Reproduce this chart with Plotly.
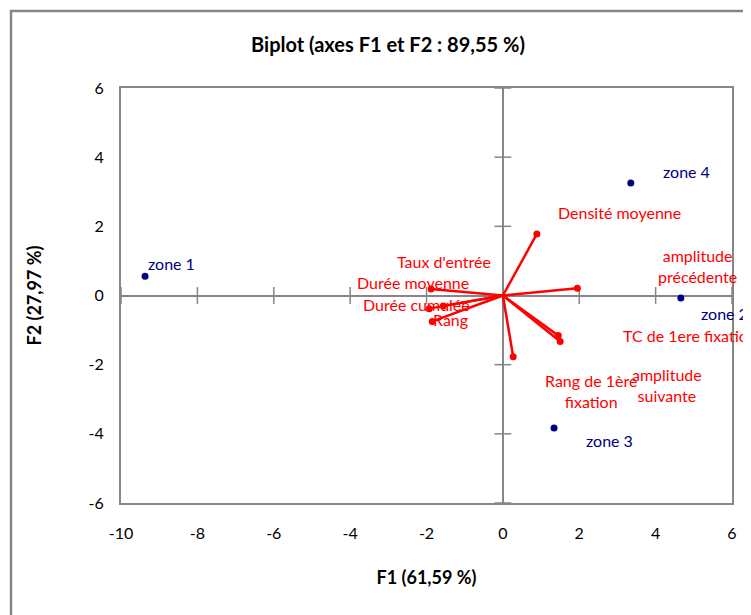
import plotly.graph_objects as go

# Observations (zones) - coordinates on F1 / F2
zones = ['zone 1', 'zone 2', 'zone 3', 'zone 4']
zone_f1 = [-9.37, 4.66, 1.34, 3.35]
zone_f2 = [0.56, -0.07, -3.83, 3.25]

# Variables (vectors from origin)
variables = ["Densité moyenne", "amplitude<br>précédente", "Taux d'entrée", "Durée moyenne",
             "Rang", "Durée cumulée", "TC de 1ere fixation", "amplitude<br>suivante",
             "Rang de 1ère<br>fixation"]
var_f1 = [0.89, 1.95, -1.88, -1.93, -1.56, -1.85, 1.45, 1.50, 0.27]
var_f2 = [1.78, 0.21, 0.19, -0.38, -0.30, -0.75, -1.16, -1.33, -1.77]

x_ticks = [-10, -8, -6, -4, -2, 0, 2, 4, 6]
x_tick_labels = ['-10', '-8', '-6', '-4', '-2', '0', '2', '4', '6']
y_ticks = [-6, -4, -2, 0, 2, 4, 6]
y_tick_labels = ['-6', '-4', '-2', '0', '2', '4', '6']

FONT = "Lato, 'Open Sans', sans-serif"
GREY = '#868686'
RED = '#FF0000'
NAVY = '#000080'

# the page body has an 8px margin, so the figure is drawn 8px smaller
W, H = 751 - 8, 615 - 8

# label offsets in pixels (dx, dy, anchor)
zone_lbl = [(26, 13, 'center'), (44, -16, 'center'), (55, -13, 'center'), (56, 12, 'center')]
var_lbl = [(83, 21, 'center'), (120, 22, 'center'), (13, 27, 'center'), (-16, 26, 'center'),
           (7, -14, 'center'), (-16, 17, 'center'), (63, 0, 'left'), (107, -43, 'center'),
           (78, -34, 'center')]

fig = go.Figure()

# tick marks drawn on the zero lines (Excel style)
fig.add_trace(go.Scatter(
    x=[t for t in x_ticks if t != 0], y=[0] * (len(x_ticks) - 1), mode='markers',
    marker=dict(symbol='line-ns', size=12, line=dict(color=GREY, width=1.5)),
    hoverinfo='skip', showlegend=False))
fig.add_trace(go.Scatter(
    x=[0] * (len(y_ticks) - 1), y=[t for t in y_ticks if t != 0], mode='markers',
    marker=dict(symbol='line-ew', size=12, line=dict(color=GREY, width=1.5)),
    hoverinfo='skip', showlegend=False))

# vectors
vx, vy = [], []
for a, b in zip(var_f1, var_f2):
    vx += [0, a, None]
    vy += [0, b, None]
fig.add_trace(go.Scatter(x=vx, y=vy, mode='lines', line=dict(color=RED, width=2.5),
                         hoverinfo='skip', showlegend=False))
fig.add_trace(go.Scatter(x=var_f1, y=var_f2, mode='markers', text=variables,
                         marker=dict(color=RED, size=7), showlegend=False))

# observations
fig.add_trace(go.Scatter(x=zone_f1, y=zone_f2, mode='markers', text=zones,
                         marker=dict(color=NAVY, size=7), showlegend=False))

for name, a, b, (dx, dy, anc) in zip(zones, zone_f1, zone_f2, zone_lbl):
    fig.add_annotation(x=a, y=b, text=name, showarrow=False, xshift=dx, yshift=dy,
                       xanchor=anc, font=dict(color=NAVY, size=16, family=FONT))
for name, a, b, (dx, dy, anc) in zip(variables, var_f1, var_f2, var_lbl):
    fig.add_annotation(x=a, y=b, text=name, showarrow=False, xshift=dx, yshift=dy,
                       xanchor=anc, font=dict(color=RED, size=16, family=FONT))

# outer chart border
fig.add_shape(type='rect', xref='paper', yref='paper', x0=(3 - 113) / 611, x1=2,
              y0=-2, y1=(495 - 3) / 415, line=dict(color=GREY, width=2.5), layer='below')

axis_common = dict(showgrid=False, showline=True, mirror=True, linecolor=GREY, linewidth=2,
                   zeroline=True, zerolinecolor=GREY, zerolinewidth=2,
                   ticks='outside', tickcolor='rgba(0,0,0,0)',
                   tickfont=dict(size=16, family=FONT, color='black'))

fig.update_layout(
    width=W, height=H,
    margin=dict(l=113, r=19, t=80, b=112),
    paper_bgcolor='white', plot_bgcolor='white',
    title=dict(text='<b>Biplot (axes F1 et F2 : 89,55 %)</b>', x=380 / W, xanchor='center',
               y=1 - 37 / H, yanchor='middle', font=dict(size=20, family=FONT, color='black')),
    xaxis=dict(range=[-10, 6], tickvals=x_ticks, ticktext=x_tick_labels, ticklen=15,
               **axis_common,
               title=dict(text='<b>F1 (61,59 %)</b>', standoff=30,
                          font=dict(size=18, family=FONT, color='black'))),
    yaxis=dict(range=[-6, 6], tickvals=y_ticks, ticktext=y_tick_labels, ticklen=12,
               **axis_common,
               title=dict(text='<b>F2 (27,97 %)</b>', standoff=42,
                          font=dict(size=18, family=FONT, color='black'))),
)

fig.write_html("out.html")
